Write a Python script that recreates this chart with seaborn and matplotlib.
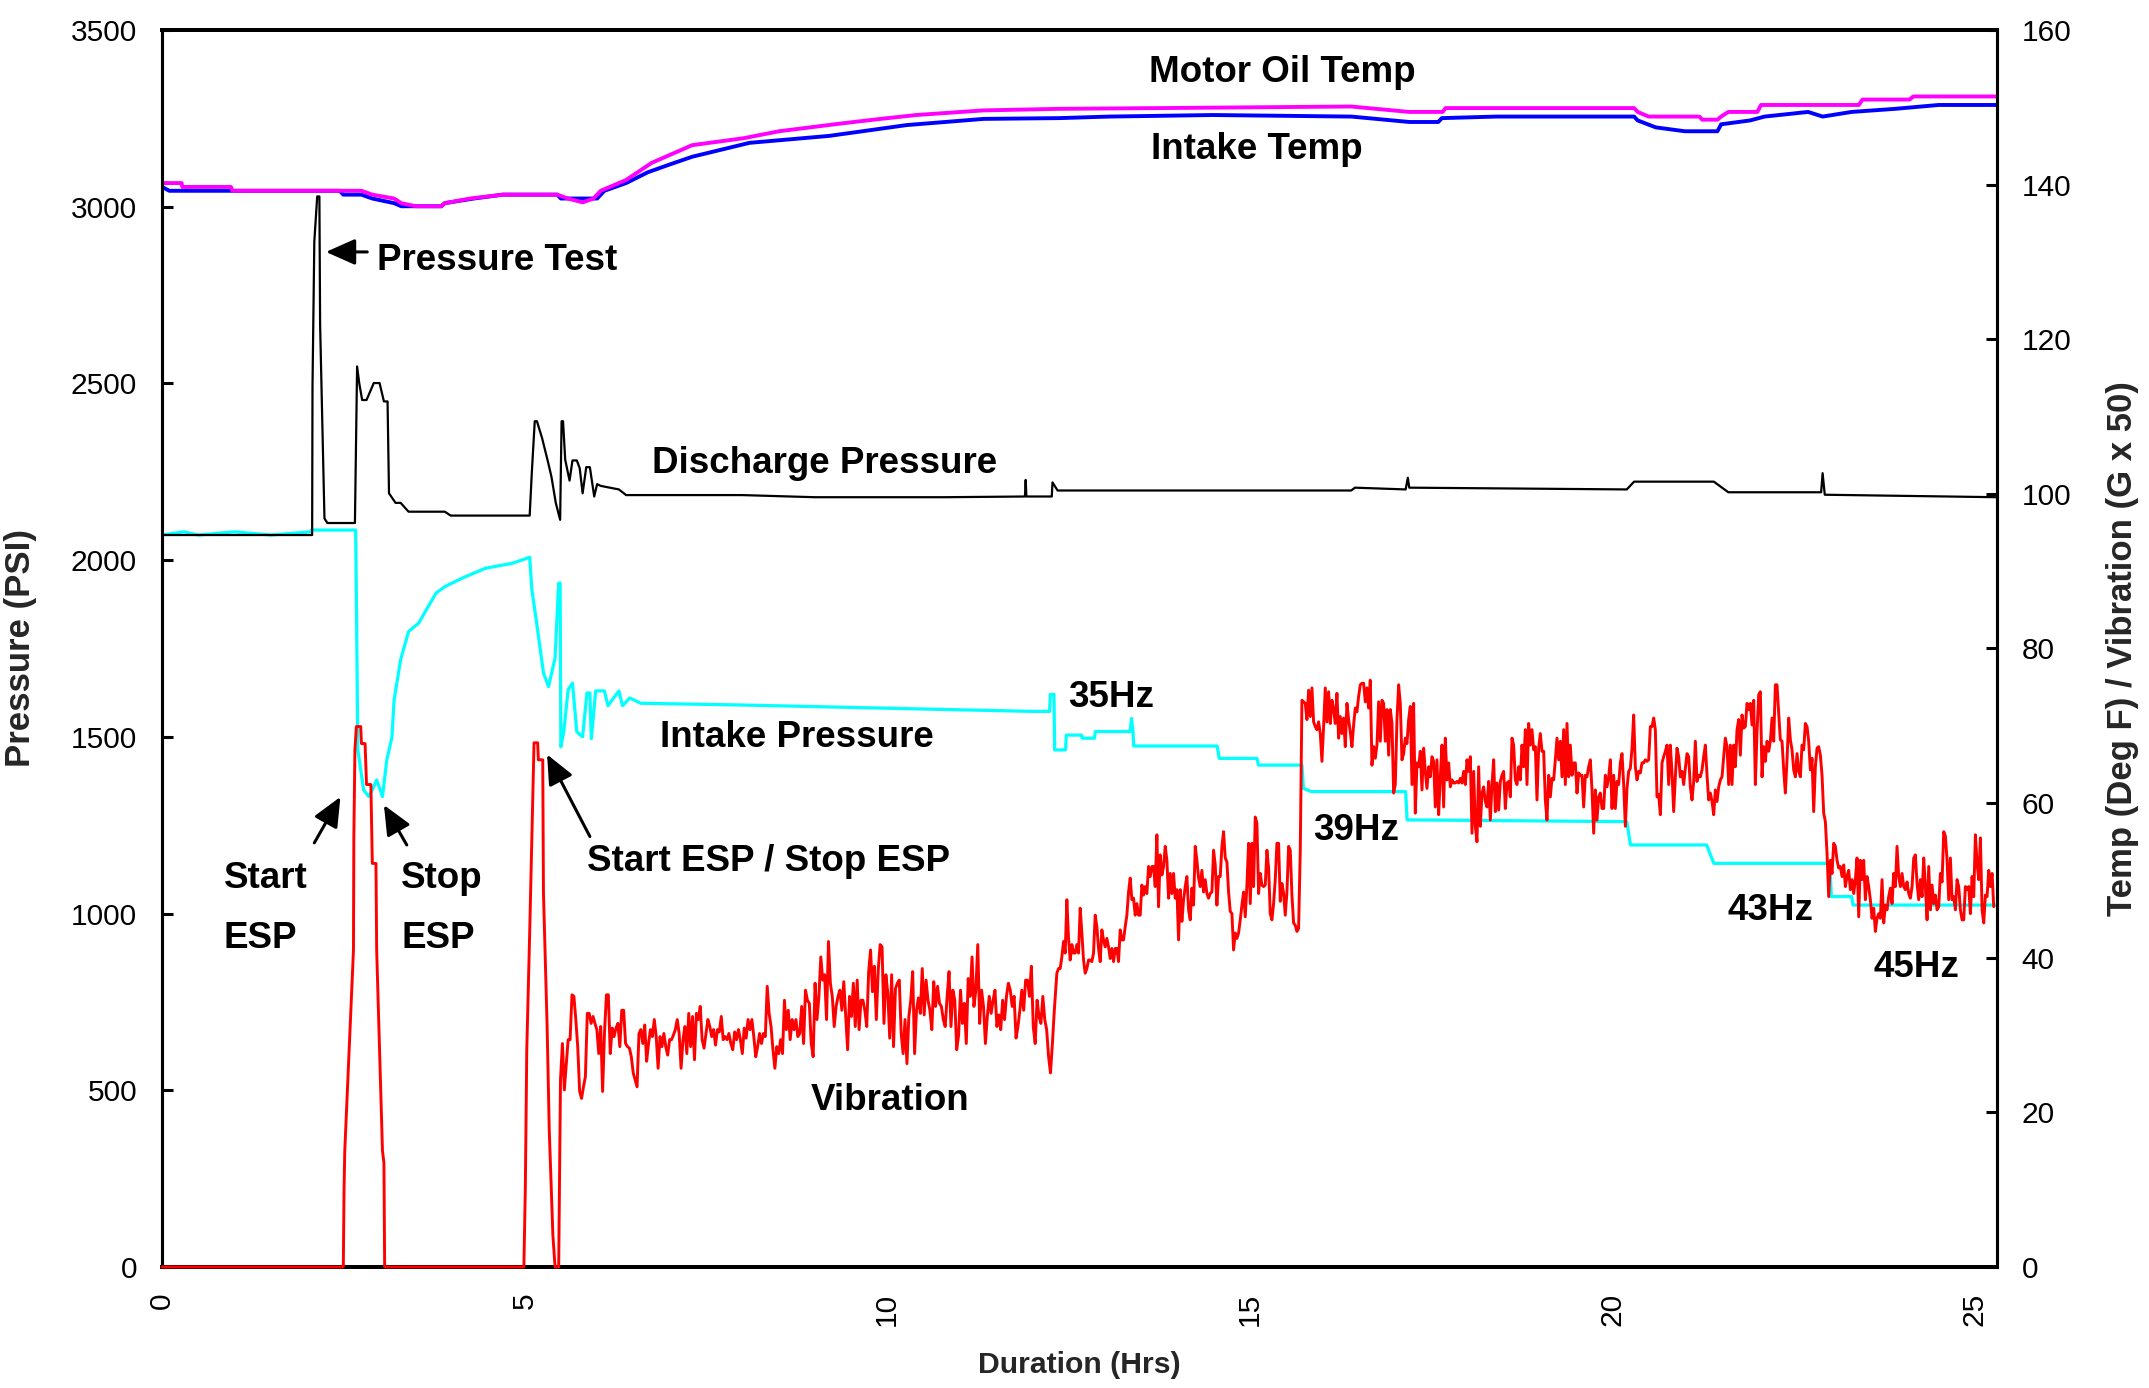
import numpy as np
import matplotlib
matplotlib.use("Agg")
import matplotlib.pyplot as plt
import seaborn as sns
from matplotlib import font_manager

# ---------------- data ----------------
# Discharge pressure (PSI)
discharge_t = [0, 2.05, 2.07, 2.075, 2.10, 2.14, 2.17, 2.18, 2.22, 2.24, 2.28, 2.66, 2.69, 2.72, 2.76,
               2.82, 2.92, 3.00, 3.06, 3.11, 3.13, 3.22, 3.29, 3.40, 3.90, 3.98, 5.07, 5.10, 5.14,
               5.17, 5.24, 5.32, 5.37, 5.43, 5.49, 5.51, 5.53, 5.56, 5.62, 5.66, 5.72, 5.76, 5.80,
               5.85, 5.90, 5.96, 6.00, 6.05, 6.30, 6.40, 8.0, 9.0, 10.8, 11.9, 11.91, 11.92, 12.27,
               12.28, 12.35, 16.4, 16.45, 17.15, 17.18, 17.2, 20.2, 20.3, 21.4, 21.6, 22.88, 22.9,
               22.93, 25.3]
discharge_p = [2071, 2071, 2071, 2491, 2901, 3029, 3029, 2666, 2300, 2118, 2105, 2105, 2548, 2500, 2453,
               2453, 2501, 2501, 2449, 2449, 2189, 2162, 2162, 2137, 2137, 2126, 2126, 2250, 2393,
               2393, 2346, 2280, 2236, 2162, 2114, 2393, 2393, 2284, 2225, 2282, 2282, 2260, 2189,
               2263, 2263, 2180, 2215, 2210, 2200, 2184, 2184, 2178, 2178, 2180, 2227, 2180, 2180,
               2220, 2197, 2197, 2205, 2200, 2233, 2205, 2200, 2222, 2222, 2192, 2192, 2246,
               2185, 2178]

# Intake pressure (PSI)
intake_t = [0, 0.3, 0.5, 1.0, 1.5, 2.05, 2.06, 2.67, 2.68, 2.70, 2.78, 2.85, 2.90, 2.96, 3.04, 3.10,
            3.17, 3.20, 3.29, 3.40, 3.54, 3.66, 3.78, 3.90, 4.15, 4.46, 4.83, 5.07, 5.10, 5.16, 5.26,
            5.33, 5.42, 5.47, 5.49, 5.50, 5.54, 5.60, 5.66, 5.72, 5.80, 5.86, 5.90, 5.92, 5.98,
            6.10, 6.15, 6.30, 6.35, 6.45, 6.60, 8.0, 10.0, 12.0, 12.24, 12.25, 12.30, 12.31, 12.46,
            12.47, 12.68, 12.69, 12.86, 12.87, 13.35, 13.37, 13.39, 13.40, 14.55, 14.58, 15.10,
            15.12, 15.72, 15.74, 15.85, 17.15, 17.17, 20.20, 20.25, 21.30, 21.40, 23.00, 23.02,
            23.30, 23.32, 25.3]
intake_p = [2071, 2080, 2071, 2080, 2071, 2080, 2085, 2085, 1897, 1463, 1350, 1331, 1350, 1378, 1331, 1435,
            1498, 1604, 1718, 1798, 1822, 1865, 1907, 1925, 1950, 1977, 1991, 2008, 1916, 1831, 1681,
            1642, 1723, 1935, 1935, 1472, 1514, 1633, 1652, 1514, 1500, 1624, 1624, 1495, 1630,
            1630, 1588, 1630, 1588, 1610, 1595, 1590, 1581, 1572, 1572, 1620, 1620, 1463, 1463,
            1505, 1505, 1496, 1496, 1515, 1515, 1552, 1515, 1474, 1474, 1439, 1439,
            1420, 1420, 1354, 1345, 1345, 1265, 1260, 1194, 1194, 1142, 1142, 1048,
            1048, 1024, 1024]

# Motor oil temperature (deg F)
oiltemp_t = [0, 0.27, 0.28, 0.95, 0.97, 2.75, 2.9, 3.2, 3.3, 3.5, 3.85, 3.9, 4.25, 4.7, 5.45, 5.6, 5.8,
             5.95, 6.05, 6.4, 6.75, 7.31, 8.02, 8.51, 9.36, 9.91, 10.4, 11.33, 12.37, 13.78, 16.4,
             17.2, 17.66, 17.7, 20.3, 20.35, 20.5, 21.2, 21.24, 21.45, 21.5, 21.6, 22.0, 22.05,
             23.4, 23.45, 24.1, 24.15, 25.3]
oiltemp_v = [140.2, 140.2, 139.7, 139.7, 139.2, 139.2, 138.7, 138.2, 137.6, 137.2, 137.2, 137.6, 138.2,
             138.7, 138.7, 138.2, 137.7, 138.2, 139.2, 140.6, 142.8, 145.1, 146.0, 146.9, 147.9, 148.5,
             149.0, 149.6, 149.8, 149.9, 150.1, 149.4, 149.4, 149.9, 149.9, 149.4, 148.8, 148.8,
             148.4, 148.4, 148.8, 149.4, 149.4, 150.3, 150.3, 151.0, 151.0, 151.4, 151.4]

# Intake temperature (deg F)
intaketemp_t = [0, 0.1, 2.45, 2.5, 2.75, 2.9, 3.2, 3.3, 3.85, 3.9, 4.3, 4.7, 5.45, 5.5, 6.0, 6.1, 6.4,
                6.7, 7.0, 7.31, 8.1, 9.2, 10.27, 11.33, 12.37, 13.06, 14.49, 16.4, 17.2, 17.6, 17.65,
                18.4, 20.3, 20.35, 20.6, 21.0, 21.45, 21.5, 21.9, 22.1, 22.7, 22.9, 23.3, 23.9, 24.5,
                25.3]
intaketemp_v = [139.7, 139.2, 139.2, 138.7, 138.7, 138.2, 137.6, 137.2, 137.2, 137.6, 138.2, 138.7, 138.7,
                138.2, 138.2, 139.2, 140.2, 141.6, 142.6, 143.6, 145.4, 146.3, 147.7, 148.5, 148.6,
                148.8, 149.0, 148.8, 148.1, 148.1, 148.6, 148.8, 148.8, 148.3, 147.4, 146.9, 146.9,
                147.8, 148.3, 148.8, 149.4, 148.8, 149.4, 149.8, 150.3, 150.3]

# Vibration (G x 50): start-up pulses
vib_pre_t = [0, 2.50, 2.51, 2.52, 2.64, 2.645, 2.66, 2.68, 2.74, 2.75, 2.80, 2.82, 2.88, 2.90, 2.95, 2.96,
             3.04, 3.06, 3.07, 4.99, 5.01, 5.03, 5.07, 5.11, 5.13, 5.18, 5.19, 5.25, 5.26, 5.31, 5.34,
             5.39, 5.42, 5.47]
vib_pre_v = [0, 0, 10, 15, 41, 55.5, 66.9, 69.9, 69.9, 67.7, 67.7, 62.4, 62.4, 52.2, 52.2, 41, 15, 13.5,
             0, 0, 10.2, 28.1, 43.2, 60, 67.8, 67.8, 65.6, 65.6, 48.4, 31.3, 17.7, 4.1, 0, 0]

# Vibration (G x 50): continuous run, sampled evenly within each time span
vib_run1_span = (5.495, 12.305)
vib_run1 = [24.2, 28.9, 22.9, 26.1, 29.4, 29.4, 35.2, 35.0, 32.0, 28.5,
            22.7, 21.8, 23.3, 24.6, 32.8, 32.8, 31.5, 32.4, 31.5, 30.7,
            27.6, 31.1, 22.7, 30.4, 35.2, 35.2, 27.6, 30.9, 29.8, 30.9,
            31.5, 28.5, 33.2, 33.2, 28.9, 28.5, 28.3, 27.2, 25.1, 24.2,
            23.3, 30.2, 30.7, 28.9, 31.3, 26.6, 28.9, 30.7, 29.8, 32.0,
            29.8, 25.7, 29.8, 28.5, 30.2, 28.5, 27.4, 29.4, 29.4, 30.0,
            30.7, 32.0, 30.2, 25.7, 29.4, 31.1, 27.6, 32.8, 28.5, 32.4,
            26.8, 32.8, 32.0, 33.7, 29.4, 28.3, 30.2, 32.0, 31.1, 29.8,
            30.7, 28.7, 30.7, 30.4, 32.4, 29.4, 29.8, 29.4, 30.2, 28.9,
            28.1, 30.4, 29.4, 30.7, 29.4, 27.6, 30.9, 29.6, 32.0, 30.7,
            32.0, 29.8, 27.2, 28.5, 30.2, 28.9, 30.2, 29.8, 36.3, 32.8,
            31.1, 28.1, 25.7, 28.5, 27.6, 29.4, 27.6, 34.5, 30.7, 33.2,
            29.4, 32.0, 30.7, 32.0, 29.8, 30.2, 33.7, 28.9, 35.8, 34.5,
            34.1, 28.9, 27.2, 36.7, 32.0, 35.0, 40.1, 37.1, 37.8, 32.0,
            42.1, 36.7, 35.0, 31.1, 33.7, 35.0, 35.8, 33.2, 36.9, 32.4,
            28.1, 35.0, 32.4, 36.7, 31.1, 37.1, 30.7, 34.5, 34.5, 33.2,
            31.1, 38.2, 41.0, 35.6, 38.9, 32.0, 38.4, 41.7, 41.4, 31.5,
            37.8, 35.4, 29.6, 37.8, 28.5, 36.0, 36.7, 37.1, 30.2, 27.6,
            32.0, 26.3, 32.4, 34.5, 38.2, 27.6, 33.2, 34.8, 32.8, 38.6,
            32.6, 37.1, 34.5, 33.2, 30.7, 36.9, 33.7, 36.3, 34.1, 33.7,
            32.0, 31.1, 35.0, 38.2, 31.1, 35.8, 34.5, 28.1, 30.0, 35.8,
            31.5, 34.1, 28.9, 37.3, 35.0, 40.1, 33.7, 35.8, 41.7, 31.5,
            35.8, 33.7, 28.9, 32.4, 35.0, 32.8, 34.5, 35.8, 31.1, 32.6,
            30.7, 34.5, 32.0, 35.0, 36.7, 35.8, 33.7, 35.0, 29.6, 31.1,
            33.2, 35.8, 33.2, 37.1, 37.1, 35.0, 38.9, 31.1, 28.9, 34.5,
            32.4, 31.5, 35.0, 32.0, 30.7, 27.2, 25.1, 28.9, 33.2]

vib_run2_span = (12.317, 17.766)
vib_run2 = [34.8, 38.0, 38.6, 38.6, 40.1, 42.1, 40.6, 47.5, 42.5, 39.7,
            41.7, 40.6, 40.6, 41.7, 40.6, 46.4, 43.2, 39.7, 38.0, 38.6,
            39.7, 39.7, 39.5, 40.6, 45.5, 44.0, 41.2, 39.5, 43.6, 42.3,
            41.4, 42.5, 41.4, 39.9, 41.2, 39.5, 41.2, 41.2, 39.5, 43.6,
            42.3, 42.3, 44.0, 45.5, 48.5, 50.3, 47.5, 47.7, 45.5, 47.0,
            45.5, 45.5, 49.4, 48.1, 49.2, 48.3, 51.8, 50.5, 51.8, 51.8,
            49.2, 55.9, 46.6, 53.3, 50.7, 51.8, 54.4, 52.6, 47.7, 50.9,
            48.3, 50.9, 47.7, 48.8, 42.3, 48.8, 44.7, 47.5, 49.2, 50.5,
            46.2, 44.9, 49.0, 46.8, 54.4, 52.6, 50.3, 49.2, 51.3, 48.5,
            50.1, 48.3, 47.7, 48.3, 48.5, 53.9, 52.0, 46.8, 50.5, 50.5,
            54.4, 56.3, 52.9, 52.4, 48.5, 46.0, 45.7, 41.0, 43.2, 42.5,
            43.2, 44.9, 46.8, 48.5, 45.3, 49.4, 54.8, 47.0, 54.8, 49.2,
            58.2, 57.4, 48.3, 50.9, 49.4, 49.2, 49.4, 53.9, 51.6, 45.7,
            44.9, 47.0, 50.1, 54.8, 54.8, 47.3, 49.6, 48.3, 45.5, 48.5,
            54.4, 53.9, 48.1, 44.5, 44.2, 43.4, 43.8, 53.9, 73.3, 73.1,
            72.9, 70.8, 74.6, 71.2, 74.9, 70.5, 69.9, 69.5, 70.5, 69.0,
            65.4, 69.9, 74.9, 70.5, 74.4, 70.3, 73.3, 72.1, 70.3, 74.2,
            68.4, 71.2, 69.0, 71.0, 67.3, 72.9, 70.8, 69.2, 67.3, 70.1,
            72.3, 71.8, 73.8, 75.3, 75.5, 75.5, 73.1, 74.9, 72.3, 75.9,
            64.9, 67.3, 65.8, 67.5, 73.1, 68.0, 73.3, 72.9, 68.0, 72.1,
            66.2, 72.1, 70.3, 61.3, 62.4, 70.8, 75.3, 72.9, 65.6, 66.4,
            68.4, 67.7, 70.8, 72.5, 62.4, 72.9, 58.7, 65.2, 64.7, 66.7,
            61.7, 67.1, 64.1, 61.9, 64.7, 63.4, 66.0, 65.4, 59.5, 65.6,
            58.5, 63.4, 67.5, 59.5, 68.4, 63.0, 65.2, 62.1]

vib_run3_span = (17.789, 23.122)
vib_run3 = [63.0, 62.6, 62.6, 62.8, 62.6, 63.2, 62.6, 64.1, 62.4, 65.6,
            64.1, 66.0, 56.1, 64.1, 57.0, 55.0, 64.7, 57.0, 61.3, 62.1,
            60.2, 59.5, 62.8, 57.8, 62.4, 65.6, 58.9, 62.6, 59.1, 62.8,
            63.6, 64.1, 59.3, 62.6, 62.8, 60.8, 68.4, 67.5, 63.0, 62.4,
            64.7, 63.0, 67.5, 64.7, 69.5, 62.4, 70.3, 67.5, 69.5, 66.9,
            67.3, 60.4, 67.1, 69.0, 66.7, 66.7, 60.4, 57.8, 63.6, 60.8,
            63.2, 63.0, 65.6, 68.4, 65.6, 68.0, 63.4, 69.5, 62.4, 70.3,
            63.4, 67.5, 63.6, 65.2, 65.2, 61.3, 63.9, 63.6, 63.6, 59.5,
            63.6, 63.4, 64.7, 65.6, 61.7, 56.1, 61.7, 57.8, 60.8, 61.3,
            59.3, 59.3, 63.6, 62.1, 63.4, 65.6, 59.3, 63.6, 59.3, 62.8,
            62.4, 65.2, 66.4, 62.4, 57.0, 61.9, 64.1, 64.5, 67.1, 71.4,
            64.7, 63.0, 64.1, 63.9, 65.2, 65.2, 65.6, 65.4, 65.6, 69.9,
            69.9, 71.0, 69.5, 60.8, 61.1, 58.5, 65.2, 66.0, 66.7, 67.5,
            62.4, 67.5, 63.9, 58.9, 63.4, 67.1, 66.0, 63.4, 64.1, 62.4,
            64.5, 66.4, 66.0, 62.1, 60.4, 62.8, 68.0, 62.8, 63.6, 63.4,
            64.3, 66.0, 67.5, 63.6, 60.4, 61.3, 60.2, 58.5, 61.7, 60.2,
            62.1, 63.0, 63.4, 66.0, 68.4, 67.3, 62.4, 67.5, 62.4, 67.5,
            64.7, 69.5, 70.8, 66.2, 71.4, 69.7, 69.9, 72.9, 72.1, 72.9,
            70.1, 73.3, 62.4, 69.2, 74.0, 74.4, 63.4, 67.3, 65.4, 68.0,
            66.7, 68.0, 71.0, 68.0, 75.3, 75.3, 71.6, 68.2, 68.0, 64.3,
            61.3, 65.6, 71.0, 68.2, 66.9, 64.3, 63.4, 66.4, 64.1, 63.4,
            67.5, 66.9, 70.3, 69.9, 68.0, 64.3, 65.8, 58.9, 64.7, 67.1,
            67.3, 66.2, 63.6, 58.7, 57.6, 53.5, 47.9, 52.6, 50.9, 54.8,
            54.4, 52.6, 51.6]

vib_run4_span = (23.145, 25.26)
vib_run4 = [51.8, 50.5, 52.0, 49.2, 50.5, 51.3, 48.8, 50.1, 48.3, 50.1,
            52.9, 45.3, 52.6, 50.1, 52.6, 47.5, 50.5, 49.2, 47.5, 45.1,
            46.4, 43.4, 45.1, 45.7, 45.1, 50.1, 44.5, 46.8, 46.2, 47.9,
            49.0, 47.0, 50.9, 49.2, 54.4, 50.5, 49.2, 50.9, 49.2, 48.8,
            49.8, 48.3, 47.7, 49.2, 52.9, 53.3, 49.6, 47.5, 50.1, 47.9,
            52.9, 49.2, 44.9, 51.8, 46.2, 49.4, 47.0, 48.1, 46.2, 46.6,
            50.9, 49.8, 56.3, 55.7, 52.6, 47.5, 52.9, 47.5, 47.9, 46.2,
            50.1, 49.2, 46.2, 44.9, 44.9, 49.2, 48.8, 49.2, 45.7, 50.5,
            47.9, 55.9, 52.2, 50.1, 55.5, 46.2, 44.5, 48.1, 47.9, 51.3,
            49.2, 50.9, 46.6]

x_ticks = [0, 5, 10, 15, 20, 25]
x_tick_labels = ["0", "5", "10", "15", "20", "25"]
left_ticks = [0, 500, 1000, 1500, 2000, 2500, 3000, 3500]
right_ticks = [0, 20, 40, 60, 80, 100, 120, 140, 160]

# ---------------- build vibration series ----------------
vib_t = list(vib_pre_t)
vib_v = list(vib_pre_v)
for span, vals in [(vib_run1_span, vib_run1), (vib_run2_span, vib_run2),
                   (vib_run3_span, vib_run3), (vib_run4_span, vib_run4)]:
    vib_t += list(np.linspace(span[0], span[1], len(vals)))
    vib_v += list(vals)

# ---------------- style / fonts ----------------
sns.set_style("white")
names = {f.name for f in font_manager.fontManager.ttflist}
narrow = None
for cand in ["Liberation Sans Narrow", "Arial Narrow"]:
    if cand in names:
        narrow = cand
        break
if narrow:
    base_family = [narrow, "DejaVu Sans"]
    ann_fs, tick_fs, xlab_fs, ylab_fs = 32, 25, 26.5, 28
else:
    base_family = ["Liberation Sans", "DejaVu Sans"]
    ann_fs, tick_fs, xlab_fs, ylab_fs = 26.5, 21.5, 21.7, 25
plt.rcParams["font.family"] = base_family

fig = plt.figure(figsize=(21.49, 13.88), dpi=100)
ax = fig.add_axes([0.0754, 0.0872, 0.8537, 0.8912])
ax2 = ax.twinx()

common = dict(estimator=None, sort=False, legend=False)
sns.lineplot(x=intake_t, y=intake_p, ax=ax, color="#00FFFF", linewidth=2.3, **common)
sns.lineplot(x=discharge_t, y=discharge_p, ax=ax, color="black", linewidth=1.6, **common)
sns.lineplot(x=intaketemp_t, y=intaketemp_v, ax=ax2, color="#0000FF", linewidth=2.8, **common)
sns.lineplot(x=oiltemp_t, y=oiltemp_v, ax=ax2, color="#FF00FF", linewidth=2.8, **common)
sns.lineplot(x=vib_t, y=vib_v, ax=ax2, color="#FF0000", linewidth=2.1, zorder=3, clip_on=False,
             **common)

ax.set_xlim(0, 25.3)
ax.set_ylim(0, 3500)
ax2.set_ylim(0, 160)
ax.set_xticks(x_ticks)
ax.set_xticklabels(x_tick_labels, rotation=90)
ax.set_yticks(left_ticks)
ax.set_yticklabels([str(v) for v in left_ticks])
ax2.set_yticks(right_ticks)
ax2.set_yticklabels([str(v) for v in right_ticks])

ax.tick_params(axis="y", direction="in", length=8, width=2.2, labelsize=tick_fs, pad=18, colors="black")
ax2.tick_params(axis="y", direction="in", length=8, width=2.2, labelsize=tick_fs, pad=18, colors="black")
ax.tick_params(axis="x", direction="inout", length=19, width=1.5, labelsize=tick_fs, pad=9,
               top=False, colors="black")

for a in (ax, ax2):
    for side, w in [("top", 2.8), ("bottom", 2.8), ("left", 2.2), ("right", 2.2)]:
        a.spines[side].set_visible(True)
        a.spines[side].set_linewidth(w)
        a.spines[side].set_color("black")

ax.set_xlabel("Duration (Hrs)", fontsize=xlab_fs, fontweight="bold", labelpad=18)
ax.set_ylabel("Pressure (PSI)", fontsize=ylab_fs, fontweight="bold", labelpad=24)
ax2.set_ylabel("Temp (Deg F) / Vibration (G x 50)", fontsize=ylab_fs, fontweight="bold", labelpad=25)

# ---------------- annotations ----------------
labels = [
    ("Motor Oil Temp", 13.61, 3353),
    ("Intake Temp", 13.64, 3135),
    ("Pressure Test", 2.97, 2821),
    ("Discharge Pressure", 6.76, 2247),
    ("Intake Pressure", 6.87, 1471),
    ("35Hz", 12.50, 1585),
    ("39Hz", 15.88, 1208),
    ("43Hz", 21.59, 983),
    ("45Hz", 23.60, 820),
    ("Vibration", 8.95, 444),
    ("Start", 0.85, 1072),
    ("ESP", 0.85, 902),
    ("Stop", 3.30, 1072),
    ("ESP", 3.30, 902),
    ("Start ESP / Stop ESP", 5.86, 1119),
]
for txt, x, y in labels:
    ax2.text(x, y, txt, transform=ax.transData, ha="left", va="baseline",
             fontsize=ann_fs, fontweight="bold", color="black", zorder=10)

arrows = [
    ((2.83, 2872), (2.26, 2872)),
    ((2.10, 1200), (2.46, 1330)),
    ((3.375, 1194), (3.06, 1307)),
    ((5.90, 1218), (5.31, 1450)),
]
for tail, tip in arrows:
    ax2.annotate("", xy=tip, xytext=tail, xycoords=ax.transData, textcoords=ax.transData,
                 arrowprops=dict(arrowstyle="-|>,head_length=0.9,head_width=0.4", color="black",
                                 lw=2.2, mutation_scale=20, shrinkA=0, shrinkB=0), zorder=10)

fig.savefig("out.png", dpi=100, facecolor="white")
